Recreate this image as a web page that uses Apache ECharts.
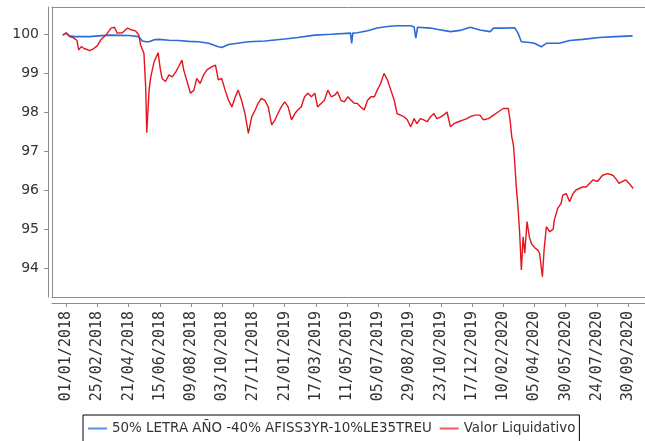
<!DOCTYPE html>
<html>
<head>
<meta charset="utf-8">
<script src="https://cdn.jsdelivr.net/npm/echarts@6/dist/echarts.min.js"></script>
<style>html,body{margin:0;padding:0;background:#fff;}#c{width:645px;height:441px;}</style>
</head>
<body>
<div id="c"></div>
<script>
// x values are days since 01/01/2018
const tickDays = [0,55,110,165,220,275,330,385,440,495,550,605,660,715,770,825,880,935,990];
const tickLabels = ['01/01/2018','25/02/2018','21/04/2018','15/06/2018','09/08/2018','03/10/2018','27/11/2018','21/01/2019','17/03/2019','11/05/2019','05/07/2019','29/08/2019','23/10/2019','17/12/2019','10/02/2020','05/04/2020','30/05/2020','24/07/2020','30/09/2020'];
const yTicks = [94,95,96,97,98,99,100];

const seriesNames = ['50% LETRA AÑO -40% AFISS3YR-10%LE35TREU','Valor Liquidativo'];

const blueDays = [-6,0,6,15,41,58,76,111,128,134,141,146,155,163,181,198,216,233,251,268,274,286,321,350,385,408,438,467,501,503,505,513,531,548,566,583,607,613,616,619,642,653,677,694,712,729,747,753,770,790,796,802,805,817,820,825,828,837,846,869,887,910,939,968,998];
const blueValues = [99.97,100.02,99.95,99.93,99.93,99.95,99.97,99.96,99.93,99.82,99.8,99.8,99.85,99.86,99.84,99.83,99.81,99.8,99.76,99.67,99.65,99.73,99.8,99.82,99.87,99.91,99.97,99.99,100.02,99.76,100.02,100.03,100.08,100.15,100.19,100.21,100.21,100.18,99.89,100.17,100.15,100.12,100.06,100.09,100.17,100.1,100.06,100.15,100.15,100.16,100.02,99.8,99.76,99.78,99.83,99.76,99.81,99.67,99.76,99.76,99.83,99.86,99.91,99.93,99.95];

const redDays = [-6,0,6,13,19,22,27,32,37,41,48,55,61,70,79,85,90,99,108,116,122,128,131,137,140,142,146,149,155,162,166,169,175,181,187,193,198,204,207,213,219,225,230,236,242,248,257,263,268,274,280,286,292,298,303,309,315,321,327,333,338,344,350,356,362,368,373,379,385,391,397,403,408,414,420,426,432,438,443,449,455,461,467,473,478,484,490,496,502,508,513,519,525,531,537,543,548,554,560,566,572,578,583,589,595,601,607,613,618,624,630,636,642,648,653,659,665,671,677,683,691,700,706,712,720,729,735,744,753,761,770,779,782,785,788,790,793,796,799,802,805,808,812,816,820,825,831,834,839,842,846,852,858,860,866,872,875,881,887,893,898,904,910,916,922,928,936,945,954,963,968,974,980,986,992,999];
const redValues = [99.97,100.03,99.93,99.9,99.83,99.59,99.68,99.62,99.6,99.57,99.62,99.7,99.85,99.97,100.15,100.17,100.02,100.03,100.15,100.1,100.08,99.97,99.72,99.5,98.65,97.47,98.56,98.9,99.29,99.52,99.08,98.86,98.78,98.95,98.9,99.03,99.16,99.33,99.08,98.78,98.48,98.56,98.86,98.73,98.95,99.08,99.16,99.2,98.82,98.86,98.56,98.3,98.13,98.39,98.56,98.3,97.96,97.45,97.88,98.05,98.22,98.35,98.3,98.13,97.67,97.8,97.96,98.13,98.26,98.13,97.8,97.96,98.05,98.13,98.39,98.48,98.39,98.48,98.13,98.22,98.3,98.56,98.39,98.43,98.52,98.3,98.26,98.39,98.3,98.22,98.22,98.13,98.05,98.3,98.39,98.39,98.56,98.73,98.99,98.82,98.56,98.3,97.96,97.92,97.88,97.8,97.62,97.83,97.7,97.83,97.8,97.75,97.88,97.96,97.83,97.87,97.92,98.0,97.62,97.7,97.75,97.8,97.83,97.88,97.92,97.92,97.8,97.83,97.92,98.0,98.09,98.09,97.8,97.37,97.15,96.77,96.08,95.57,94.89,93.95,94.8,94.38,95.19,94.8,94.62,94.53,94.46,94.38,93.78,94.46,95.06,94.93,95.0,95.23,95.53,95.66,95.87,95.91,95.7,95.91,96.0,96.04,96.08,96.08,96.17,96.26,96.22,96.38,96.42,96.38,96.3,96.17,96.22,96.26,96.17,96.04];

const pair = (xs, ys) => xs.map((x, i) => [x, ys[i]]);
const frameLine = {show: true, onZero: false, lineStyle: {color: '#8c8c8c', width: 1}};
const xRange = {type: 'value', min: -25, max: 1019.8};
const yRange = {type: 'value', min: 93.26, max: 100.69};

const chart = echarts.init(document.getElementById('c'), null, {renderer: 'canvas'});
chart.setOption({
  animation: false,
  backgroundColor: '#ffffff',
  grid: {left: 52, top: 7, right: -4, bottom: 144, show: false},
  xAxis: [{
    ...xRange, position: 'bottom', offset: 6,
    axisLine: frameLine,
    axisTick: {show: true, length: 4, customValues: tickDays, lineStyle: {color: '#8c8c8c'}},
    axisLabel: {customValues: tickDays, rotate: 90, margin: 8, fontFamily: 'DejaVu Sans Mono', fontSize: 15, color: '#333',
      formatter: v => { const i = tickDays.indexOf(v); return i >= 0 ? tickLabels[i] : ''; }},
    splitLine: {show: false}
  }, {
    ...xRange, position: 'top', axisLine: frameLine, axisTick: {show: false}, axisLabel: {show: false}, splitLine: {show: false}
  }, {
    ...xRange, position: 'bottom', offset: 0, axisLine: frameLine, axisTick: {show: false}, axisLabel: {show: false}, splitLine: {show: false}
  }],
  yAxis: [{
    ...yRange, position: 'left', offset: 4,
    axisLine: frameLine,
    axisTick: {show: true, length: 4, customValues: yTicks, lineStyle: {color: '#8c8c8c'}},
    axisLabel: {customValues: yTicks, margin: 9, fontFamily: 'DejaVu Sans', fontSize: 14, color: '#333'},
    splitLine: {show: false}
  }, {
    ...yRange, position: 'left', offset: 0, axisLine: frameLine, axisTick: {show: false}, axisLabel: {show: false}, splitLine: {show: false}
  }],
  legend: {
    left: 83, top: 415, orient: 'horizontal',
    borderColor: '#000', borderWidth: 1, padding: [7, 4, 40, 5],
    icon: 'rect', itemWidth: 19, itemHeight: 2, itemGap: 8,
    textStyle: {fontFamily: 'DejaVu Sans', fontSize: 13.4, color: '#333'},
    data: seriesNames
  },
  series: [
    {name: seriesNames[0], type: 'line', data: pair(blueDays, blueValues), showSymbol: false, symbol: 'none',
     lineStyle: {color: '#2a6bd8', width: 1.6}, itemStyle: {color: '#5b8ee6'}},
    {name: seriesNames[1], type: 'line', data: pair(redDays, redValues), showSymbol: false, symbol: 'none',
     lineStyle: {color: '#e4141c', width: 1.4}, itemStyle: {color: '#ee5a60'}}
  ]
});
</script>
</body>
</html>
